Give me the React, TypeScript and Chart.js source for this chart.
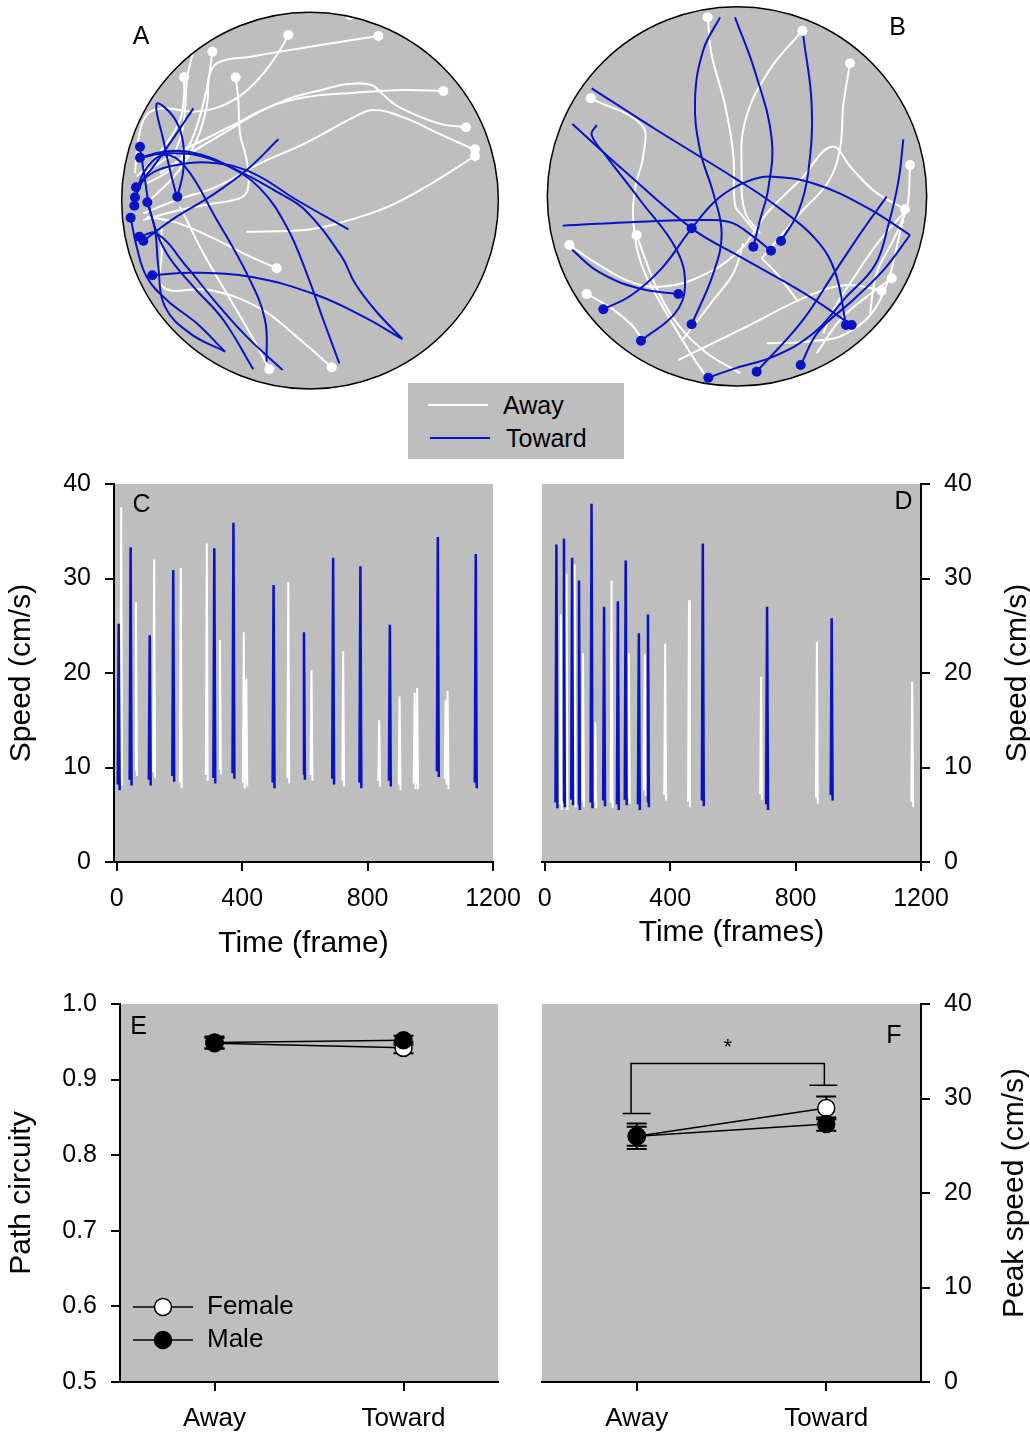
import React, { useEffect, useRef } from "react";
import { Chart, registerables } from "chart.js";
Chart.register(...registerables);

const FONT = '"Liberation Sans", Arial, Helvetica, sans-serif';
const GRAY = "#bebebe";
const BLUE = "#0713c4";
const WHITE = "#ffffff";

// ---------- Panels A / B : arena trajectories (video coords, 0..1200) ----------
const A_arena = [600, 602, 565]; // cx, cy, r
const B_arena = [591, 589, 569];

const A_towardPaths: number[][][] = [
  [[90,473],[160,455],[250,458],[350,495],[450,565],[530,680],[590,820],[640,960],[688,1090]],
  [[75,592],[110,530],[200,495],[320,490],[430,520],[560,600],[715,688]],
  [[127,826],[250,818],[430,832],[620,885],[760,950],[877,1017]],
  [[78,562],[130,500],[200,400],[250,325]],
  [[100,722],[200,650],[300,590],[410,510],[505,418]],
  [[202,590],[220,510],[218,420],[190,350],[140,312],[160,420],[180,510],[200,590]],
  [[90,440],[105,540],[125,650],[170,760],[250,860],[340,960],[430,1108]],
  [[62,653],[80,740],[110,830],[170,900],[260,970],[345,1055]],
  [[88,710],[140,700],[230,800],[320,910],[410,1010],[518,1110]],
  [[73,617],[100,520],[160,465],[225,500],[315,650],[415,830],[465,960],[470,1085]],
  [[112,607],[135,690],[145,800],[165,920],[240,1000],[345,1055]],
  [[90,473],[170,460],[280,470],[400,520],[500,575],[585,630],[695,770],[735,850],[795,930],[877,1017]],
];
const A_awayPaths: number[][][] = [
  [[805,108],[600,140],[420,170],[330,185],[300,220],[290,320],[260,420],[200,520],[120,600]],
  [[535,105],[510,150],[460,220],[400,280],[330,320],[250,335],[160,325],[110,345],[85,420],[75,520]],
  [[307,155],[300,210],[285,290],[260,380],[230,450],[180,510],[110,550]],
  [[222,232],[222,290],[210,360],[170,430],[110,500],[80,530]],
  [[377,232],[385,300],[390,400],[410,480],[415,560],[395,592],[300,612],[200,632],[100,660]],
  [[1000,273],[885,270],[735,278],[585,292],[480,320],[380,370],[280,420],[180,470],[100,520]],
  [[1070,382],[985,370],[865,320],[815,280],[785,255],[715,252],[635,270],[540,295],[440,340],[340,400],[240,460],[150,520]],
  [[1095,450],[985,400],[875,350],[790,330],[735,350],[585,430],[450,490],[320,560],[200,600],[100,640]],
  [[1095,468],[965,550],[835,620],[685,670],[585,690],[410,695]],
  [[500,805],[400,760],[300,710],[200,668],[110,650]],
  [[478,1108],[420,1000],[350,880],[280,760],[230,660],[210,620]],
  [[665,1102],[560,1010],[450,925],[300,870],[160,862],[155,760],[155,680]],
  [[250,155],[232,230],[225,330],[215,400],[190,470]],
];
const A_towardDots: number[][] = [[90,440],[90,473],[78,562],[75,592],[73,617],[112,607],[202,590],[62,653],[88,710],[100,722],[127,826]];
const A_awayDots: number[][] = [[720,45],[535,105],[805,108],[307,155],[222,232],[377,232],[1000,273],[1068,382],[1095,448],[1095,468],[500,805],[478,1108],[665,1102]];

const B_towardPaths: number[][][] = [
  [[455,973],[520,820],[545,700],[520,580],[480,450],[465,300],[490,150],[540,52]],
  [[640,740],[660,660],[685,565],[695,415],[645,215],[585,52]],
  [[723,723],[775,635],[805,515],[815,315],[790,108]],
  [[190,928],[275,885],[365,805],[455,685],[535,595],[620,545],[700,530],[835,555],[985,625],[1110,705]],
  [[918,975],[885,815],[825,715],[705,615],[585,535],[350,390],[155,265]],
  [[935,975],[785,875],[600,770],[455,685],[250,510],[97,372]],
  [[303,1022],[405,940],[435,860],[410,750],[300,600],[200,470],[155,405],[170,375]],
  [[693,752],[640,710],[580,670],[520,660],[300,665],[68,677]],
  [[415,882],[295,865],[175,815],[97,750]],
  [[505,1133],[585,1105],[700,1070],[820,1000],[915,895],[1005,795],[1045,675],[1075,545],[1090,418]],
  [[782,1095],[835,995],[945,895],[1035,805],[1110,705]],
  [[650,1115],[785,965],[885,815],[965,695],[1040,590]],
];
const B_awayPaths: number[][][] = [
  [[503,52],[515,165],[555,315],[580,465],[585,615],[605,645],[650,700]],
  [[787,92],[685,215],[615,365],[605,515],[615,635],[660,700]],
  [[930,190],[910,315],[900,445],[865,545],[785,635],[665,775]],
  [[152,295],[305,375],[310,465],[285,565],[280,665],[305,795],[365,915],[455,1065],[495,1125]],
  [[290,706],[315,775],[355,875],[415,975],[495,1055],[600,1120]],
  [[88,735],[170,790],[270,845],[360,860],[480,830],[600,750],[685,635],[785,535],[875,440],[935,505],[1005,575],[1095,628]],
  [[140,882],[215,925],[275,975],[305,1015]],
  [[1110,495],[1105,600],[1095,640],[1060,720],[1010,820],[990,940]],
  [[1055,835],[980,890],[900,960],[830,1060]],
  [[1025,872],[920,855],[800,890],[620,980],[415,1080]],
  [[1095,635],[1020,720],[950,820],[880,930],[850,1000]],
  [[680,1030],[800,1025],[920,1000],[1020,900],[1090,660]],
  [[425,1023],[520,900],[580,820],[610,730]],
  [[665,775],[705,815],[775,905]],
];
const B_towardDots: number[][] = [[455,685],[640,740],[693,752],[723,723],[415,882],[190,928],[455,973],[303,1022],[918,975],[935,975],[505,1133],[650,1115],[782,1095]];
const B_awayDots: number[][] = [[503,52],[787,92],[930,190],[152,295],[1110,495],[1095,628],[290,706],[88,735],[140,882],[1055,835],[1025,872]];

// ---------- Panels C / D : speed spikes ----------
const C_time = [6, 14, 44, 61, 105, 119, 180, 204, 287, 311, 329, 372, 405, 413, 500, 547, 597, 621, 690, 722, 777, 837, 871, 902, 950, 958, 1024, 1049, 1055, 1145];
const C_peak = [25.2, 37.5, 33.3, 27.5, 24.0, 32.0, 30.9, 31.1, 33.7, 33.2, 23.5, 35.9, 24.3, 19.4, 29.3, 29.6, 24.3, 20.3, 32.2, 22.3, 31.3, 15.0, 25.1, 17.5, 17.9, 18.4, 34.4, 17.1, 18.1, 32.6];
const C_base = [7.6, 8.1, 8.1, 9.1, 8.1, 8.9, 8.5, 7.8, 8.6, 8.3, 9.3, 8.8, 7.8, 8.0, 7.8, 8.3, 8.7, 8.6, 8.2, 8.0, 7.8, 8.0, 8.0, 7.6, 7.7, 7.7, 9.0, 8.2, 7.7, 7.8];
const C_dir = ["T","A","T","A","T","A","T","A","A","T","A","T","A","A","T","A","T","A","T","A","T","A","T","A","A","A","T","A","A","T"];

const D_time = [37, 51, 61, 69, 87, 95, 109, 122, 149, 161, 189, 213, 233, 258, 268, 300, 319, 329, 384, 460, 504, 690, 709, 868, 915, 1172];
const D_peak = [33.6, 26.2, 34.2, 30.5, 32.2, 31.5, 29.8, 22.1, 37.9, 14.8, 27.0, 29.8, 27.6, 31.9, 22.1, 24.2, 22.0, 26.2, 23.1, 27.7, 33.7, 19.6, 27.0, 23.3, 25.8, 19.1];
const D_base = [5.7, 5.5, 5.8, 5.5, 6.0, 5.8, 5.5, 5.8, 5.7, 5.7, 5.9, 5.7, 5.5, 6.0, 6.2, 5.5, 7.0, 5.8, 6.5, 5.8, 5.9, 6.6, 5.5, 6.2, 6.5, 5.8];
const D_dir = ["T","A","T","A","T","A","T","A","T","A","T","A","T","T","A","T","A","T","A","A","T","A","T","A","T","A"];

const TIME_TICKS = [0, 400, 800, 1200];

// ---------- Panels E / F ----------
const GROUPS = ["Away", "Toward"];
const E_femaleMean = [0.948, 0.942];
const E_femaleSE = [0.007, 0.007];
const E_maleMean = [0.949, 0.952];
const E_maleSE = [0.008, 0.006];
const F_femaleMean = [26.0, 29.0];
const F_femaleSE = [1.0, 1.2];
const F_maleMean = [26.0, 27.3];
const F_maleSE = [1.35, 0.7];
const F_bracketLegX = [-0.03, 0.99];
const F_bracketCapX = [0.0, 0.985];
const F_bracketLegLow = [28.4, 31.4];
const F_bracketTop = 33.7;

// ---------- helpers ----------
const tickFont = { family: FONT, size: 25 };
const titleFont = { family: FONT, size: 30 };
const gridTicks = { display: true, drawOnChartArea: false, drawTicks: true, tickLength: 9, tickWidth: 2, lineWidth: 2, tickColor: "#000", color: "#000" };
const axisBorder = { display: true, color: "#000", width: 2 };
const noPad = (s: any) => { s.paddingTop = 0; s.paddingBottom = 0; s.paddingLeft = 0; s.paddingRight = 0; };

const plotBg = {
  id: "plotBg",
  beforeDraw(chart: any) {
    const { ctx, chartArea: a } = chart;
    ctx.save();
    ctx.fillStyle = GRAY;
    ctx.fillRect(a.left, a.top, a.right - a.left, a.bottom - a.top);
    ctx.restore();
  },
};

function textPlugin(items: { text: string; dx: (a: any) => number; dy: (a: any) => number; size: number; rot?: boolean }[]) {
  return {
    id: "texts",
    afterDraw(chart: any) {
      const { ctx, chartArea: a } = chart;
      items.forEach((it) => {
        ctx.save();
        ctx.fillStyle = "#000";
        ctx.font = `${it.size}px ${FONT}`;
        ctx.textAlign = "center";
        ctx.textBaseline = "middle";
        ctx.translate(it.dx(a), it.dy(a));
        if (it.rot) ctx.rotate(-Math.PI / 2);
        ctx.fillText(it.text, 0, 0);
        ctx.restore();
      });
    },
  };
}

function arenaConfig(arena: number[], away: number[][][], toward: number[][][], awayDots: number[][], towardDots: number[][], letter: string, lx: number, ly: number) {
  const toXY = (p: number[][]) => p.map(([x, y]) => ({ x, y }));
  const datasets: any[] = [];
  datasets.push({ data: toXY(towardDots), showLine: false, pointRadius: 5, pointBackgroundColor: BLUE, pointBorderWidth: 0, order: 0 });
  datasets.push({ data: toXY(awayDots), showLine: false, pointRadius: 5, pointBackgroundColor: WHITE, pointBorderWidth: 0, order: 1 });
  toward.forEach((p) => datasets.push({ data: toXY(p), showLine: true, borderColor: BLUE, borderWidth: 2, pointRadius: 0, tension: 0.4, order: 2 }));
  away.forEach((p) => datasets.push({ data: toXY(p), showLine: true, borderColor: WHITE, borderWidth: 2, pointRadius: 0, tension: 0.4, order: 3 }));
  const geom = (chart: any) => {
    const { scales } = chart;
    const cx = scales.x.getPixelForValue(arena[0]);
    const cy = scales.y.getPixelForValue(arena[1]);
    const r = Math.abs(scales.x.getPixelForValue(arena[0] + arena[2]) - cx);
    return { cx, cy, r };
  };
  const circle = {
    id: "arena",
    beforeDatasetsDraw(chart: any) {
      const { ctx } = chart;
      const { cx, cy, r } = geom(chart);
      ctx.save();
      ctx.beginPath();
      ctx.arc(cx, cy, r, 0, Math.PI * 2);
      ctx.fillStyle = GRAY;
      ctx.fill();
      ctx.clip();
    },
    afterDatasetsDraw(chart: any) {
      const { ctx } = chart;
      ctx.restore();
      const { cx, cy, r } = geom(chart);
      ctx.save();
      ctx.beginPath();
      ctx.arc(cx, cy, r, 0, Math.PI * 2);
      ctx.strokeStyle = "#000";
      ctx.lineWidth = 1.5;
      ctx.stroke();
      ctx.fillStyle = "#000";
      ctx.font = `25px ${FONT}`;
      ctx.textAlign = "center";
      ctx.textBaseline = "middle";
      ctx.fillText(letter, lx, ly);
      ctx.restore();
    },
  };
  return {
    type: "scatter",
    data: { datasets },
    options: {
      responsive: false,
      animation: false,
      layout: { padding: 0, autoPadding: false },
      plugins: { legend: { display: false }, tooltip: { enabled: false } },
      scales: {
        x: { type: "linear", min: 0, max: 1200, display: false },
        y: { type: "linear", min: 0, max: 1200, reverse: true, display: false },
      },
    },
    plugins: [circle],
  };
}

function speedConfig(times: number[], peaks: number[], bases: number[], dirs: string[], side: "left" | "right", xTitle: string, xTitlePad: number, letter: string) {
  const mk = (d: string) => {
    const pts: any[] = [];
    times.forEach((t, i) => {
      if (dirs[i] !== d) return;
      pts.push({ x: t - 3, y: bases[i] + 0.6 }, { x: t, y: peaks[i] }, { x: t + 3, y: bases[i] }, { x: t + 3.5, y: null });
    });
    return pts;
  };
  const texts: any[] = [];
  if (side === "left") {
    texts.push({ text: letter, dx: (a: any) => a.left + 27.5, dy: (a: any) => a.top + 21, size: 25 });
  } else {
    texts.push({ text: letter, dx: (a: any) => a.right - 17.5, dy: (a: any) => a.top + 18, size: 25 });
    texts.push({ text: "Speed (cm/s)", dx: (a: any) => a.right + 97, dy: (a: any) => (a.top + a.bottom) / 2, size: 30, rot: true });
  }
  return {
    type: "line",
    data: {
      datasets: [
        { data: mk("T"), borderColor: BLUE, borderWidth: 2.5, pointRadius: 0, tension: 0, fill: false, order: 0 },
        { data: mk("A"), borderColor: WHITE, borderWidth: 2, pointRadius: 0, tension: 0, fill: false, order: 1 },
      ],
    },
    options: {
      responsive: false,
      animation: false,
      layout: side === "left" ? { autoPadding: false, padding: { top: 14, right: 37, left: 0, bottom: 0 } } : { autoPadding: false, padding: { top: 14, right: 0, left: 22, bottom: 0 } },
      plugins: { legend: { display: false }, tooltip: { enabled: false } },
      scales: {
        x: {
          type: "linear",
          min: -9,
          max: 1200,
          afterBuildTicks: (s: any) => { s.ticks = TIME_TICKS.map((v) => ({ value: v })); },
          afterFit: (s: any) => { s.height = 108; noPad(s); },
          ticks: { font: tickFont, color: "#000", padding: 13, maxRotation: 0, minRotation: 0, autoSkip: false, callback: (v: any) => String(v) },
          grid: gridTicks,
          border: axisBorder,
          title: { display: true, text: xTitle, font: titleFont, color: "#000", padding: { top: 0, bottom: xTitlePad } },
        },
        y: {
          type: "linear",
          position: side,
          min: 0,
          max: 40,
          afterFit: (s: any) => { s.width = side === "left" ? 114 : 109; noPad(s); },
          ticks: { stepSize: 10, font: tickFont, color: "#000", padding: 14 },
          grid: gridTicks,
          border: axisBorder,
          title: { display: side === "left", text: "Speed (cm/s)", font: titleFont, color: "#000", padding: { top: 4, bottom: 0 } },
        },
      },
    },
    plugins: [plotBg, textPlugin(texts)],
  };
}

function meansConfig(kind: "E" | "F") {
  const isE = kind === "E";
  const fm = isE ? E_femaleMean : F_femaleMean;
  const fs = isE ? E_femaleSE : F_femaleSE;
  const mm = isE ? E_maleMean : F_maleMean;
  const ms = isE ? E_maleSE : F_maleSE;
  const series = [
    { mean: fm, se: fs },
    { mean: mm, se: ms },
  ];
  const errPlugin = {
    id: "errbars",
    beforeDatasetsDraw(chart: any) {
      const { ctx, scales } = chart;
      ctx.save();
      ctx.strokeStyle = "#000";
      ctx.lineWidth = 2;
      series.forEach((s) => {
        s.mean.forEach((m, i) => {
          const x = scales.x.getPixelForValue(i);
          const y1 = scales.y.getPixelForValue(m + s.se[i]);
          const y2 = scales.y.getPixelForValue(m - s.se[i]);
          ctx.beginPath();
          ctx.moveTo(x, y1); ctx.lineTo(x, y2);
          ctx.moveTo(x - 10, y1); ctx.lineTo(x + 10, y1);
          ctx.moveTo(x - 10, y2); ctx.lineTo(x + 10, y2);
          ctx.stroke();
        });
      });
      if (!isE) {
        ctx.lineWidth = 1.5;
        const yt = scales.y.getPixelForValue(F_bracketTop);
        const xl = scales.x.getPixelForValue(F_bracketLegX[0]);
        const xr = scales.x.getPixelForValue(F_bracketLegX[1]);
        ctx.beginPath();
        ctx.moveTo(xl, scales.y.getPixelForValue(F_bracketLegLow[0]));
        ctx.lineTo(xl, yt);
        ctx.lineTo(xr, yt);
        ctx.lineTo(xr, scales.y.getPixelForValue(F_bracketLegLow[1]));
        F_bracketCapX.forEach((cx, i) => {
          const px = scales.x.getPixelForValue(cx);
          const py = scales.y.getPixelForValue(F_bracketLegLow[i]);
          ctx.moveTo(px - 14, py); ctx.lineTo(px + 14, py);
        });
        ctx.stroke();
        ctx.fillStyle = "#000";
        ctx.font = `22px ${FONT}`;
        ctx.textAlign = "center";
        ctx.textBaseline = "alphabetic";
        ctx.fillText("*", scales.x.getPixelForValue((F_bracketLegX[0] + F_bracketLegX[1]) / 2), yt - 10);
      }
      ctx.restore();
    },
  };
  const legendPlugin = {
    id: "sexLegend",
    afterDatasetsDraw(chart: any) {
      if (!isE) return;
      const { ctx, chartArea: a } = chart;
      [["Female", WHITE, 303], ["Male", "#000", 336]].forEach(([label, fill, dy]: any) => {
        const y = a.top + dy;
        ctx.save();
        ctx.strokeStyle = "#000";
        ctx.lineWidth = 1.5;
        ctx.beginPath();
        ctx.moveTo(a.left + 13, y); ctx.lineTo(a.left + 73, y);
        ctx.stroke();
        ctx.beginPath();
        ctx.arc(a.left + 43, y, 8.5, 0, Math.PI * 2);
        ctx.fillStyle = fill;
        ctx.fill();
        ctx.stroke();
        ctx.fillStyle = "#000";
        ctx.font = `26px ${FONT}`;
        ctx.textAlign = "left";
        ctx.textBaseline = "middle";
        ctx.fillText(label, a.left + 87, y);
        ctx.restore();
      });
    },
  };
  const texts: any[] = isE
    ? [{ text: "E", dx: (a: any) => a.left + 18.5, dy: (a: any) => a.top + 23, size: 25 }]
    : [
        { text: "F", dx: (a: any) => a.right - 27, dy: (a: any) => a.top + 32, size: 25 },
        { text: "Peak speed (cm/s)", dx: (a: any) => a.right + 94, dy: (a: any) => (a.top + a.bottom) / 2, size: 30, rot: true },
      ];
  const toXY = (arr: number[]) => arr.map((y, i) => ({ x: i, y }));
  return {
    type: "line",
    data: {
      datasets: [
        { label: "Male", data: toXY(mm), borderColor: "#000", borderWidth: 1.5, pointRadius: 8.5, pointBackgroundColor: "#000", pointBorderColor: "#000", pointBorderWidth: 1.5, tension: 0, order: 0 },
        { label: "Female", data: toXY(fm), borderColor: "#000", borderWidth: 1.5, pointRadius: 8.5, pointBackgroundColor: WHITE, pointBorderColor: "#000", pointBorderWidth: 1.5, tension: 0, order: 1 },
      ],
    },
    options: {
      responsive: false,
      animation: false,
      layout: isE ? { autoPadding: false, padding: { top: 14, right: 22, left: 0, bottom: 0 } } : { autoPadding: false, padding: { top: 14, right: 0, left: 22, bottom: 0 } },
      plugins: { legend: { display: false }, tooltip: { enabled: false } },
      scales: {
        x: {
          type: "linear",
          min: -0.5,
          max: 1.5,
          afterBuildTicks: (s: any) => { s.ticks = GROUPS.map((_, i) => ({ value: i })); },
          afterFit: (s: any) => { s.height = 52; noPad(s); },
          ticks: { font: { family: FONT, size: 26 }, color: "#000", padding: 12, maxRotation: 0, minRotation: 0, autoSkip: false, callback: (v: any) => GROUPS[Math.round(Number(v))] },
          grid: gridTicks,
          border: axisBorder,
        },
        y: {
          type: "linear",
          position: isE ? "left" : "right",
          min: isE ? 0.5 : 0,
          max: isE ? 1.0 : 40,
          afterFit: (s: any) => { s.width = isE ? 120 : 109; noPad(s); },
          ticks: { stepSize: isE ? 0.1 : 10, font: tickFont, color: "#000", padding: 14, callback: (v: any) => (isE ? Number(v).toFixed(1) : String(v)) },
          grid: gridTicks,
          border: axisBorder,
          title: { display: isE, text: "Path circuity", font: titleFont, color: "#000", padding: { top: 4, bottom: 0 } },
        },
      },
    },
    plugins: [plotBg, errPlugin, legendPlugin, textPlugin(texts)],
  };
}

function ChartCanvas({ left, top, width, height, make }: { left: number; top: number; width: number; height: number; make: () => any }) {
  const ref = useRef<HTMLCanvasElement>(null);
  useEffect(() => {
    const chart = new Chart(ref.current as HTMLCanvasElement, make());
    return () => chart.destroy();
  }, []);
  return <canvas ref={ref} width={width} height={height} style={{ position: "absolute", left, top, width, height }} />;
}

function ArenaLegend() {
  const txt: React.CSSProperties = { position: "absolute", fontSize: 25, lineHeight: "30px", color: "#000", fontFamily: FONT, whiteSpace: "nowrap" };
  return (
    <div style={{ position: "absolute", left: 408, top: 383, width: 216, height: 76, background: GRAY }}>
      <div style={{ position: "absolute", left: 20, top: 21, width: 60, height: 2, background: WHITE }} />
      <div style={{ ...txt, left: 95, top: 7 }}>Away</div>
      <div style={{ position: "absolute", left: 22, top: 54, width: 60, height: 2, background: BLUE }} />
      <div style={{ ...txt, left: 98, top: 40 }}>Toward</div>
    </div>
  );
}

export default function App() {
  return (
    <div style={{ position: "absolute", left: 0, top: 0, width: 1030, height: 1434, background: "#fff", overflow: "hidden", fontFamily: FONT }}>
      <ChartCanvas left={110} top={0} width={400} height={400} make={() => arenaConfig(A_arena, A_awayPaths, A_towardPaths, A_awayDots, A_towardDots, "A", 31, 37)} />
      <ChartCanvas left={540} top={0} width={400} height={400} make={() => arenaConfig(B_arena, B_awayPaths, B_towardPaths, B_awayDots, B_towardDots, "B", 357.5, 28.5)} />
      <ArenaLegend />
      <ChartCanvas left={0} top={470} width={530} height={500} make={() => speedConfig(C_time, C_peak, C_base, C_dir, "left", "Time (frame)", 8, "C")} />
      <ChartCanvas left={520} top={470} width={510} height={500} make={() => speedConfig(D_time, D_peak, D_base, D_dir, "right", "Time (frames)", 19, "D")} />
      <ChartCanvas left={0} top={990} width={520} height={444} make={() => meansConfig("E")} />
      <ChartCanvas left={520} top={990} width={510} height={444} make={() => meansConfig("F")} />
    </div>
  );
}
